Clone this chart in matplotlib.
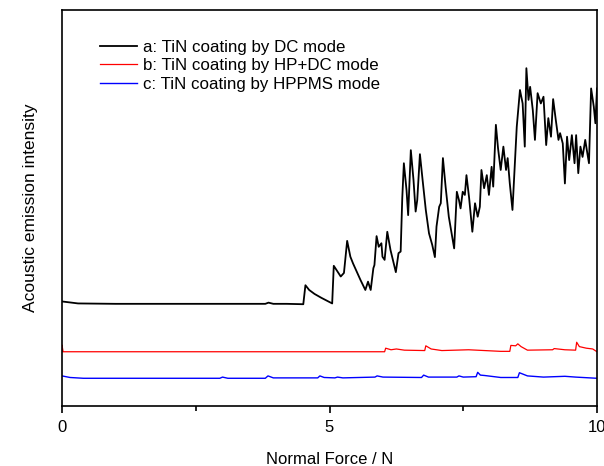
import matplotlib
matplotlib.use("Agg")
import matplotlib.pyplot as plt
from matplotlib.ticker import MultipleLocator

plt.rcParams['font.family'] = ['Liberation Sans', 'DejaVu Sans']

# ---- data (Normal force in N, acoustic emission intensity in arbitrary units) ----
force_a = [0.0, 0.3, 1.0, 2.0, 3.0, 3.80, 3.86, 3.95, 4.2, 4.51,
           4.55, 4.62, 4.72, 4.85, 4.95, 5.05, 5.08, 5.21, 5.27, 5.33,
           5.39, 5.44, 5.58, 5.67, 5.72, 5.77, 5.82, 5.84, 5.88, 5.92,
           5.97, 5.99, 6.03, 6.08, 6.14, 6.24, 6.29, 6.33, 6.36, 6.39,
           6.44, 6.47, 6.52, 6.57, 6.61, 6.64, 6.69, 6.74, 6.80, 6.86,
           6.92, 6.97, 7.00, 7.05, 7.08, 7.12, 7.17, 7.23, 7.33, 7.38,
           7.42, 7.45, 7.49, 7.53, 7.56, 7.61, 7.67, 7.72, 7.77, 7.81,
           7.84, 7.89, 7.94, 7.98, 8.03, 8.06, 8.11, 8.15, 8.20, 8.25,
           8.30, 8.33, 8.37, 8.42, 8.50, 8.56, 8.61, 8.65, 8.68, 8.72,
           8.75, 8.80, 8.84, 8.89, 8.95, 9.00, 9.05, 9.09, 9.14, 9.18,
           9.23, 9.28, 9.31, 9.36, 9.40, 9.44, 9.48, 9.53, 9.58, 9.61,
           9.65, 9.69, 9.73, 9.78, 9.81, 9.85, 9.89, 9.94, 9.97, 10.0]
intensity_a = [26.4, 25.9, 25.8, 25.8, 25.8, 25.8, 26.1, 25.8, 25.8, 25.7,
               30.5, 29.3, 28.3, 27.3, 26.6, 25.9, 35.4, 32.7, 33.6, 41.7,
               37.7, 36.0, 31.8, 29.3, 31.4, 29.3, 34.8, 35.6, 42.9, 40.2,
               41.1, 37.7, 36.9, 44.0, 39.4, 33.8, 38.6, 39.0, 52.5, 61.3,
               54.5, 48.2, 64.6, 57.1, 49.1, 52.0, 63.6, 57.1, 49.5, 43.6,
               40.7, 37.6, 45.3, 50.3, 51.2, 62.6, 55.4, 47.8, 39.8, 54.1,
               52.0, 49.9, 54.1, 53.3, 58.3, 52.5, 44.0, 51.2, 47.8, 50.3,
               59.6, 55.0, 58.3, 53.3, 60.4, 55.4, 71.0, 65.1, 59.6, 65.5,
               59.6, 62.6, 56.2, 49.5, 70.5, 79.8, 76.4, 65.5, 85.3, 77.3,
               80.6, 74.7, 67.2, 79.0, 76.4, 78.1, 65.9, 72.7, 68.0, 77.5,
               72.2, 67.2, 68.9, 66.3, 56.2, 68.0, 62.1, 68.4, 61.3, 68.4,
               58.8, 65.5, 62.9, 67.2, 64.6, 61.3, 80.2, 75.6, 71.4, 80.2]

force_b = [0.0, 0.0, 0.02, 3.0, 6.03, 6.05, 6.15, 6.25, 6.40, 6.78,
           6.80, 6.90, 7.10, 7.60, 8.20, 8.37, 8.39, 8.48, 8.52, 8.58,
           8.70, 9.17, 9.20, 9.40, 9.60, 9.62, 9.67, 9.80, 9.92, 10.0]
intensity_b = [13.7, 15.4, 13.7, 13.7, 13.7, 14.6, 14.2, 14.4, 14.1, 14.0,
               15.2, 14.4, 14.0, 14.2, 13.8, 13.8, 15.3, 15.2, 15.7, 15.0,
               14.1, 14.2, 14.5, 14.2, 14.1, 16.1, 15.0, 14.6, 14.4, 13.7]

force_c = [0.0, 0.15, 0.4, 1.5, 2.95, 3.00, 3.10, 3.80, 3.85, 3.95,
           4.78, 4.82, 4.90, 5.10, 5.15, 5.25, 5.85, 5.89, 6.00, 6.72,
           6.76, 6.85, 7.38, 7.42, 7.50, 7.74, 7.77, 7.82, 7.90, 8.20,
           8.52, 8.55, 8.70, 9.00, 9.40, 9.60, 10.0]
intensity_c = [7.6, 7.2, 7.0, 7.0, 7.0, 7.3, 7.0, 7.0, 7.6, 7.1,
               7.1, 7.6, 7.2, 7.1, 7.3, 7.1, 7.3, 7.6, 7.3, 7.2,
               7.8, 7.3, 7.3, 7.6, 7.3, 7.4, 8.5, 7.8, 7.7, 7.2,
               7.2, 8.4, 7.6, 7.3, 7.5, 7.3, 7.0]

labels = ["a: TiN coating by DC mode",
          "b: TiN coating by HP+DC mode",
          "c: TiN coating by HPPMS mode"]

fig = plt.figure(figsize=(6.04, 4.66), dpi=100)
ax = fig.add_axes([62/604, 1-406/466, 535/604, 396/466])

ax.plot(force_a, intensity_a, color='black', lw=1.3, label=labels[0])
ax.plot(force_b, intensity_b, color='red', lw=0.9, label=labels[1])
ax.plot(force_c, intensity_c, color='blue', lw=1.0, label=labels[2])

ax.set_xlim(0, 10)
ax.set_ylim(0, 100)
ax.set_yticks([])
ax.xaxis.set_major_locator(MultipleLocator(5))
ax.xaxis.set_minor_locator(MultipleLocator(2.5))
ax.tick_params(axis='x', which='major', direction='out', length=5, width=1.2,
               labelsize=12, pad=5, top=False)
ax.tick_params(axis='x', which='minor', direction='out', length=3.5, width=1.2, top=False)
for s in ax.spines.values():
    s.set_linewidth(1.2)

ax.set_xlabel("Normal Force / N", fontsize=12, labelpad=12)
ax.set_ylabel("Acoustic emission intensity", fontsize=12.5, labelpad=17)

ax.legend(loc='upper left', bbox_to_anchor=(0.071, 0.925), frameon=False,
          fontsize=12.2, borderpad=0, borderaxespad=0, labelspacing=0.21,
          handlelength=2.2, handletextpad=0.35)

fig.savefig("out.png", dpi=100)
